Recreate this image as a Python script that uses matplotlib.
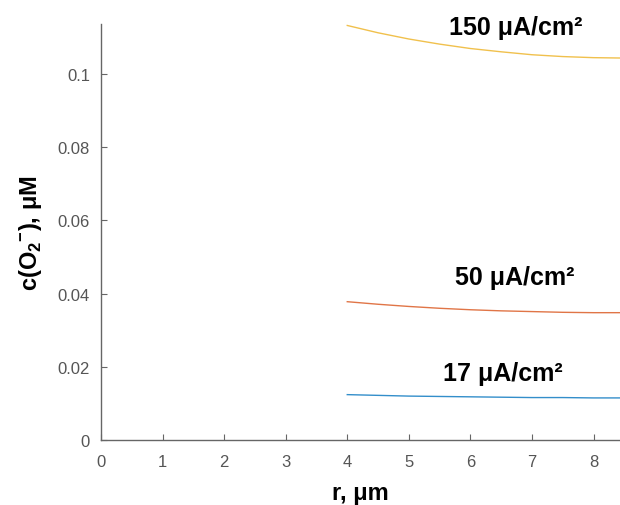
import matplotlib
matplotlib.use("Agg")
import matplotlib.pyplot as plt

plt.rcParams['font.family'] = ['Liberation Sans', 'DejaVu Sans']
plt.rcParams['mathtext.fontset'] = 'custom'
plt.rcParams['mathtext.rm'] = 'Liberation Sans'
plt.rcParams['mathtext.bf'] = 'Liberation Sans:bold'

# radial distance (um) and superoxide concentration (uM) for three current densities
r = [4.0, 4.5, 5.0, 5.5, 6.0, 6.5, 7.0, 7.5, 8.0, 8.45]
c_17 = [0.0124, 0.0122, 0.0120, 0.0119, 0.0118, 0.0117, 0.0116, 0.0116, 0.0115, 0.0115]
c_50 = [0.0378, 0.0371, 0.0365, 0.0360, 0.0356, 0.0353, 0.0351, 0.0349, 0.0348, 0.0348]
c_150 = [0.1133, 0.1113, 0.1096, 0.1082, 0.1070, 0.1061, 0.1053, 0.1048, 0.1045, 0.1044]
labels = ['17 μA/cm²', '50 μA/cm²', '150 μA/cm²']
xticks = [0, 1, 2, 3, 4, 5, 6, 7, 8]
yticks = [0, 0.02, 0.04, 0.06, 0.08, 0.1]

fig = plt.figure(figsize=(6.2, 5.06), dpi=100)
ax = fig.add_axes([101 / 620, 65 / 506, 519 / 620, 416 / 506])

ax.plot(r, c_17, color=(0, 0.447, 0.741), lw=1.0, alpha=0.8)
ax.plot(r, c_50, color=(0.85, 0.325, 0.098), lw=1.0, alpha=0.8)
ax.plot(r, c_150, color=(0.929, 0.694, 0.125), lw=1.0, alpha=0.8)

ax.text(6.53, 0.0182, labels[0], ha='center', va='center', fontsize=18, fontweight='bold')
ax.text(6.72, 0.0445, labels[1], ha='center', va='center', fontsize=18, fontweight='bold')
ax.text(6.74, 0.1129, labels[2], ha='center', va='center', fontsize=18, fontweight='bold')

ax.set_xlim(0, 8.43)
ax.set_ylim(0, 0.1137)
ax.set_xticks(xticks)
ax.set_yticks(yticks)
ax.set_yticklabels(['0', '0.02', '0.04', '0.06', '0.08', '0.1'])

for side in ['top', 'right']:
    ax.spines[side].set_visible(False)
for side in ['left', 'bottom']:
    ax.spines[side].set_color('#666666')
    ax.spines[side].set_linewidth(1.0)

ax.tick_params(direction='in', length=4, width=0.8, colors='#666666',
               labelsize=12, labelcolor='#555555')
ax.tick_params(axis='x', pad=10)
ax.tick_params(axis='y', pad=8)

ax.set_xlabel('r, μm', fontsize=17, fontweight='bold', labelpad=9)
ax.set_ylabel(r'c(O$_\mathbf{2}{}^\mathbf{-}$), μM', fontsize=17, fontweight='bold', labelpad=10)

fig.savefig('out.png', dpi=100)
